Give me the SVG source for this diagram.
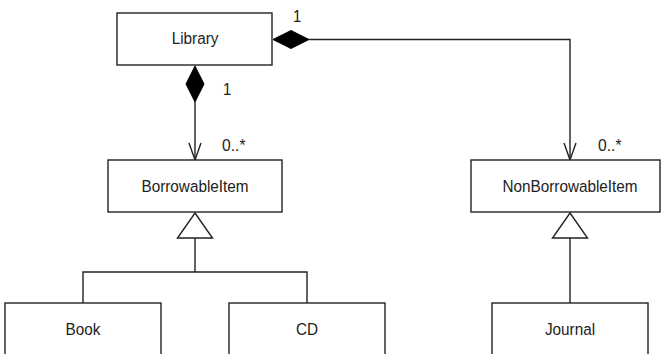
<svg xmlns="http://www.w3.org/2000/svg" width="661" height="354" viewBox="0 0 661 354">
<style>
.box{fill:#fff;stroke:#222;stroke-width:1.4}
.t{font-family:"Liberation Sans",Arial,sans-serif;font-size:17px;fill:#222;text-anchor:middle}
.lbl{font-family:"Liberation Sans",Arial,sans-serif;font-size:16.5px;fill:#222}
.ln{fill:none;stroke:#222;stroke-width:1.4}
.dia{fill:#000;stroke:#000;stroke-width:1}
.tri{fill:#fff;stroke:#222;stroke-width:1.4}
</style>
<rect width="661" height="354" fill="#fff"/>
<g id="connectors">
  <path class="ln" d="M195,102 V160"/>
  <path class="ln" d="M189,143 L195,160 L201,143"/>
  <polygon class="dia" points="195,66 204,84 195,102 186,84"/>
  <path class="ln" d="M309,39.5 H570 V160"/>
  <path class="ln" d="M564,143 L570,160 L576,143"/>
  <polygon class="dia" points="273,39.5 291,30.5 309,39.5 291,48.5"/>
  <path class="ln" d="M195,238 V272 M83,303 V272 H307 V303"/>
  <polygon class="tri" points="195,213 212.5,238 177.5,238"/>
  <path class="ln" d="M570,238 V303"/>
  <polygon class="tri" points="570,213 587.5,238 552.5,238"/>
  <text class="lbl" transform="translate(223,95) scale(0.9,1)">1</text>
  <text class="lbl" transform="translate(222,151) scale(0.95,1)">0..*</text>
  <text class="lbl" transform="translate(293,22) scale(0.9,1)">1</text>
  <text class="lbl" transform="translate(598,151) scale(0.95,1)">0..*</text>
</g>
<g id="library">
  <rect class="box" x="117" y="13" width="155" height="52"/>
  <text class="t" transform="translate(195,44) scale(0.9,1)">Library</text>
</g>
<g id="borrowable">
  <rect class="box" x="108" y="160" width="174" height="52"/>
  <text class="t" transform="translate(195,191.5) scale(0.9,1)">BorrowableItem</text>
</g>
<g id="nonborrowable">
  <rect class="box" x="471" y="160" width="189" height="52"/>
  <text class="t" transform="translate(570,191.5) scale(0.9,1)">NonBorrowableItem</text>
</g>
<g id="book">
  <rect class="box" x="5" y="303" width="156" height="60"/>
  <text class="t" transform="translate(83,334.5) scale(0.9,1)">Book</text>
</g>
<g id="cd">
  <rect class="box" x="229" y="303" width="156" height="60"/>
  <text class="t" transform="translate(307,334.5) scale(0.9,1)">CD</text>
</g>
<g id="journal">
  <rect class="box" x="492" y="303" width="156" height="60"/>
  <text class="t" transform="translate(570,334.5) scale(0.9,1)">Journal</text>
</g>
</svg>
